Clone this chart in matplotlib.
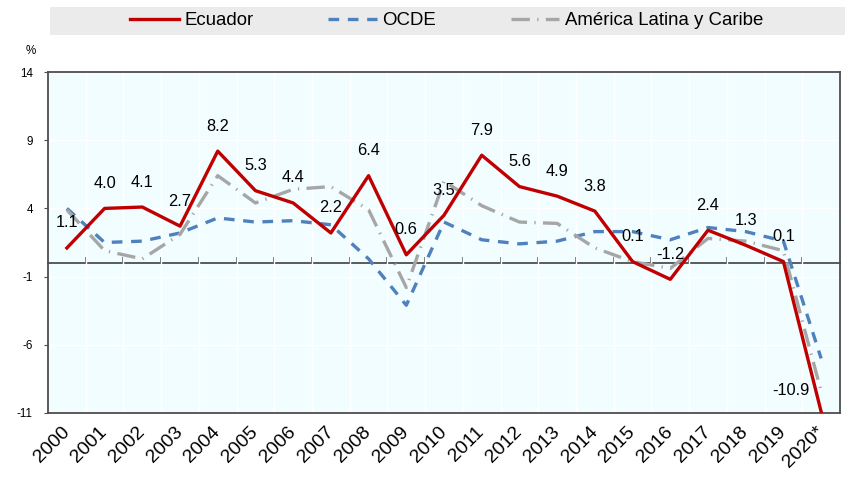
import matplotlib
matplotlib.use('Agg')
import matplotlib.pyplot as plt
import matplotlib.font_manager as fm
from matplotlib.patches import Rectangle

# fuente estrecha si existe
names = {f.name for f in fm.fontManager.ttflist}
narrow = 'Liberation Sans Narrow' if 'Liberation Sans Narrow' in names else 'Liberation Sans'
plt.rcParams['font.family'] = [narrow, 'DejaVu Sans']
k = 1.0 if narrow == 'Liberation Sans Narrow' else 0.84  # ajuste de tamaño

# datos
years = ['2000', '2001', '2002', '2003', '2004', '2005', '2006', '2007', '2008', '2009', '2010',
         '2011', '2012', '2013', '2014', '2015', '2016', '2017', '2018', '2019', '2020*']
ecuador = [1.1, 4.0, 4.1, 2.7, 8.2, 5.3, 4.4, 2.2, 6.4, 0.6, 3.5,
           7.9, 5.6, 4.9, 3.8, 0.1, -1.2, 2.4, 1.3, 0.1, -10.9]
ocde = [4.0, 1.5, 1.6, 2.2, 3.3, 3.0, 3.1, 2.8, 0.3, -3.1, 3.0,
        1.7, 1.4, 1.6, 2.3, 2.3, 1.7, 2.6, 2.3, 1.6, -7.0]
alc = [3.9, 0.9, 0.3, 2.1, 6.4, 4.4, 5.4, 5.6, 3.9, -1.8, 6.0,
       4.2, 3.0, 2.9, 1.1, 0.1, -0.4, 1.8, 1.6, 0.9, -9.4]
yticks = [-11, -6, -1, 4, 9, 14]

x = list(range(len(years)))

fig = plt.figure(figsize=(8.64, 4.84), dpi=100)
ax = fig.add_axes([0.0556, 0.1467, 0.9166, 0.7045])
ax.set_facecolor('#F2FDFF')

l1, = ax.plot(x, ecuador, color='#C00000', lw=2.4, zorder=5, label='Ecuador')
l2, = ax.plot(x, ocde, color='#4F81BD', lw=2.4, dashes=(3.2, 2.6), zorder=3, label='OCDE')
l3, = ax.plot(x, alc, color='#A6A6A6', lw=2.4, dashes=(5.5, 2.2, 0.4, 2.2), zorder=4,
              label='América Latina y Caribe')

# etiquetas de valores de Ecuador
for i, v in enumerate(ecuador):
    if i == len(ecuador) - 1:
        off = (-22, 15)
    else:
        off = (0, 18)
    ax.annotate(f'{v:.1f}', (i, v), xytext=off, textcoords='offset points',
                ha='center', va='center', fontsize=14 * k, color='black', zorder=6)

ax.set_xlim(-0.5, len(years) - 0.5)
ax.set_ylim(-11, 14)
ax.set_yticks(yticks)
ax.set_yticklabels([str(t) for t in yticks], fontsize=10 * k)
ax.set_xticks(x)
ax.set_xticklabels(years, rotation=45, ha='right', va='center', rotation_mode='anchor',
                   fontsize=16.5 * k)
ax.tick_params(axis='x', length=0, pad=12)
ax.tick_params(axis='y', length=3, pad=8, color='#4D4D4D')
ax.set_xticks([i + 0.5 for i in x[:-1]], minor=True)
ax.tick_params(axis='x', which='minor', length=0)

ax.grid(True, which='minor', axis='x', color='white', lw=1)
ax.grid(True, which='major', axis='y', color='white', lw=1)
ax.set_axisbelow(True)

for s in ax.spines.values():
    s.set_color('#4D4D4D')
    s.set_linewidth(1.3)

# linea de cero con marcas
zero = (0 - (-11)) / (14 - (-11))
sec = ax.secondary_xaxis(zero)
sec.set_xticks([i + 0.5 for i in x[:-1]])
sec.set_xticklabels([])
sec.tick_params(direction='in', length=4, width=1.2, color='#4D4D4D')
sec.spines['bottom'].set_color('#4D4D4D')
sec.spines['bottom'].set_linewidth(1.3)

fig.text(0.036, 0.895, '%', fontsize=10 * k, ha='center', va='center')

# leyenda en banda gris
fig.patches.append(Rectangle((0.058, 0.928), 0.92, 0.058, transform=fig.transFigure,
                             facecolor='#EBEBEB', edgecolor='none', zorder=0))
fig.legend(handles=[l1, l2, l3], loc='center', bbox_to_anchor=(0.517, 0.957), ncol=3,
           frameon=False, fontsize=16 * k, handlelength=2.6, handletextpad=0.3,
           columnspacing=4.0, borderaxespad=0)

fig.savefig('out.png', dpi=100)
